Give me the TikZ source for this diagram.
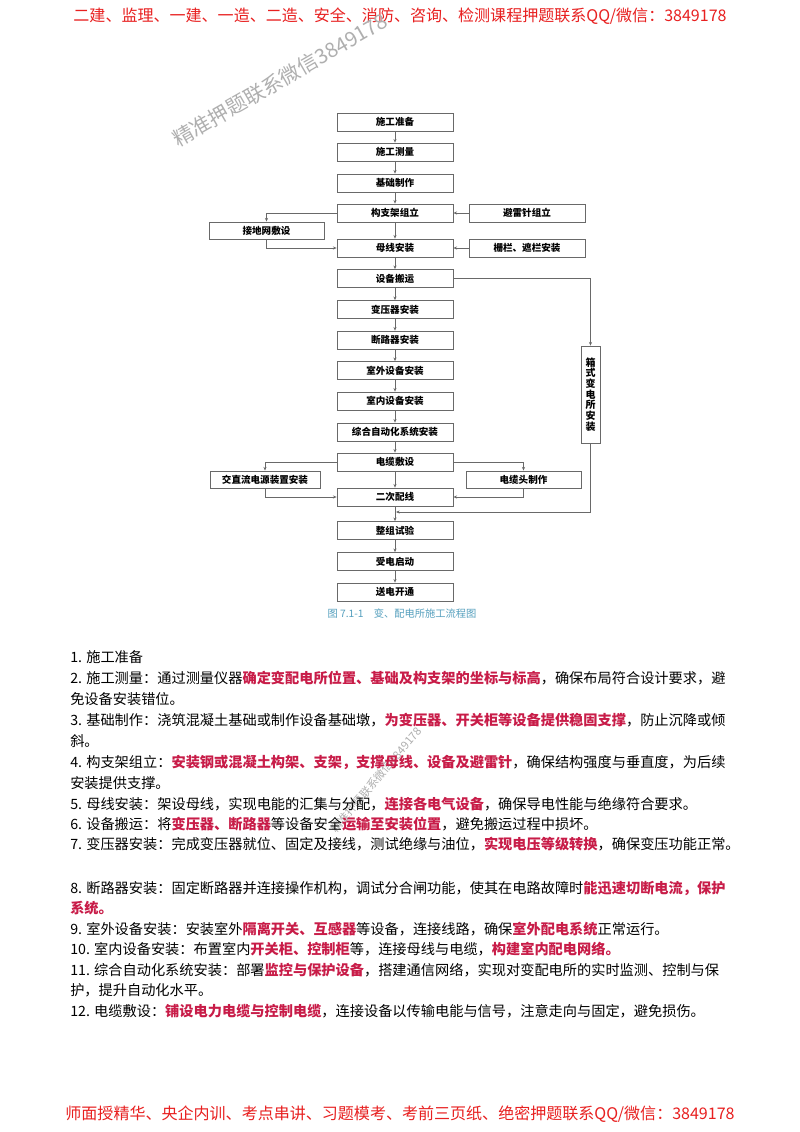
\documentclass[tikz,border=0pt]{standalone}
\usepackage{fontspec}
\setmainfont{Noto Sans CJK SC}
\usetikzlibrary{arrows.meta}
\definecolor{hdred}{RGB}{232,32,32}
\definecolor{keyred}{RGB}{200,28,72}
\definecolor{capblue}{RGB}{86,160,190}
\definecolor{boxgray}{RGB}{105,105,105}
\definecolor{wmgray}{RGB}{175,175,175}
\newcommand{\kw}[1]{{\color{keyred}\bfseries #1}}

\begin{document}
\begin{tikzpicture}[x=0.025cm, y=-0.025cm,
  stepbox/.style={draw=boxgray, fill=white, line width=0.5pt, minimum width=2.9cm, minimum height=0.45cm, inner sep=0pt, font=\fontsize{6.8pt}{7pt}\selectfont\bfseries},
  flow/.style={draw=boxgray, line width=0.5pt, -{Stealth[length=2.6pt,width=2.2pt]}},
  bodytext/.style={anchor=west, inner sep=0pt, font=\fontsize{10.1pt}{12pt}\selectfont},
  banner/.style={inner sep=0pt, text=hdred, font=\fontsize{11.4pt}{13pt}\selectfont},
  wmark/.style={inner sep=0pt, text=wmgray, font=\fontsize{14.6pt}{16pt}\selectfont}]
\fill[white] (0,0) rectangle (800,1132);
\useasboundingbox (0,0) rectangle (800,1132);

\node[banner] (head) at (400,16) {二建、监理、一建、一造、二造、安全、消防、咨询、检测课程押题联系QQ/微信：3849178};
\node[wmark, rotate=30] (wm1) at (280,80) {精准押题联系微信3849178};
\node[wmark, rotate=50, font=\fontsize{8pt}{9pt}\selectfont] (wm2) at (376,780) {精准押题联系微信3849178};

\node[stepbox] (prep) at (395,122) {施工准备};
\node[stepbox] (survey) at (395,152) {施工测量};
\node[stepbox] (found) at (395,183) {基础制作};
\node[stepbox] (frame) at (395,213) {构支架组立};
\node[stepbox] (bus) at (395,248) {母线安装};
\node[stepbox] (haul) at (395,278.5) {设备搬运};
\node[stepbox] (xfmr) at (395,309.5) {变压器安装};
\node[stepbox] (brk) at (395,340) {断路器安装};
\node[stepbox] (outdoor) at (395,370.5) {室外设备安装};
\node[stepbox] (indoor) at (395,401) {室内设备安装};
\node[stepbox] (auto) at (395,432) {综合自动化系统安装};
\node[stepbox] (cable) at (395,462) {电缆敷设};
\node[stepbox] (wiring) at (395,497) {二次配线};
\node[stepbox] (test) at (395,530.5) {整组试验};
\node[stepbox] (energize) at (395,561.5) {受电启动};
\node[stepbox] (deliver) at (395,592) {送电开通};

\node[stepbox, minimum width=2.875cm, minimum height=0.43cm] (ground) at (266.5,230.5) {接地网敷设};
\node[stepbox] (arrester) at (527,213) {避雷针组立};
\node[stepbox] (fence) at (527,248) {栅栏、遮栏安装};
\node[stepbox, minimum width=2.75cm, minimum height=0.43cm] (acdc) at (265,479.5) {交直流电源装置安装};
\node[stepbox, minimum width=2.875cm, minimum height=0.43cm] (cablehead) at (523.5,479.5) {电缆头制作};
\node[stepbox, minimum width=0.475cm, minimum height=2.425cm, align=center, font=\fontsize{7.1pt}{7.6pt}\selectfont\bfseries] (boxsub) at (590.5,394.5) {箱\\式\\变\\电\\所\\安\\装};
\coordinate (join) at (396,512);

\foreach \a/\b in {prep/survey, survey/found, found/frame, frame/bus, bus/haul, haul/xfmr, xfmr/brk, brk/outdoor, outdoor/indoor, indoor/auto, auto/cable, cable/wiring, wiring/test, test/energize, energize/deliver}
  \draw[flow] (\a) -- (\b);
\draw[flow] (frame.west) -| (ground.north);
\draw[flow] (ground.south) |- (bus.west);
\draw[flow] (arrester) -- (frame);
\draw[flow] (fence) -- (bus);
\draw[flow] (haul.east) -| (boxsub.north);
\draw[flow] (boxsub.south) |- (join);
\draw[flow] (cable.west) -| (acdc.north);
\draw[flow] (acdc.south) |- (wiring.west);
\draw[flow] (cable.east) -| (cablehead.north);
\draw[flow] (cablehead.south) |- (wiring.east);

\node[inner sep=0pt, text=capblue, font=\fontsize{7.3pt}{8pt}\selectfont] (caption) at (402,614) {图 7.1-1\quad 变、配电所施工流程图};

\node[bodytext] (t1) at (70,657) {1. 施工准备};
\node[bodytext] (t2) at (70,678) {2. 施工测量：通过测量仪器\kw{确定变配电所位置、基础及构支架的坐标与标高}，确保布局符合设计要求，避};
\node[bodytext] (t3) at (70,699) {免设备安装错位。};
\node[bodytext] (t4) at (70,720) {3. 基础制作：浇筑混凝土基础或制作设备基础墩，\kw{为变压器、开关柜等设备提供稳固支撑}，防止沉降或倾};
\node[bodytext] (t5) at (70,741) {斜。};
\node[bodytext] (t6) at (70,762) {4. 构支架组立：\kw{安装钢或混凝土构架、支架，支撑母线、设备及避雷针}，确保结构强度与垂直度，为后续};
\node[bodytext] (t7) at (70,783) {安装提供支撑。};
\node[bodytext] (t8) at (70,804) {5. 母线安装：架设母线，实现电能的汇集与分配，\kw{连接各电气设备}，确保导电性能与绝缘符合要求。};
\node[bodytext] (t9) at (70,824) {6. 设备搬运：将\kw{变压器、断路器}等设备安全\kw{运输至安装位置}，避免搬运过程中损坏。};
\node[bodytext] (t10) at (70,844) {7. 变压器安装：完成变压器就位、固定及接线，测试绝缘与油位，\kw{实现电压等级转换}，确保变压功能正常。};
\node[bodytext] (t11) at (70,888) {8. 断路器安装：固定断路器并连接操作机构，调试分合闸功能，使其在电路故障时\kw{能迅速切断电流，保护}};
\node[bodytext] (t12) at (70,908.5) {\kw{系统。}};
\node[bodytext] (t13) at (70,929) {9. 室外设备安装：安装室外\kw{隔离开关、互感器}等设备，连接线路，确保\kw{室外配电系统}正常运行。};
\node[bodytext] (t14) at (70,949.5) {10. 室内设备安装：布置室内\kw{开关柜、控制柜}等，连接母线与电缆，\kw{构建室内配电网络。}};
\node[bodytext] (t15) at (70,970) {11. 综合自动化系统安装：部署\kw{监控与保护设备}，搭建通信网络，实现对变配电所的实时监测、控制与保};
\node[bodytext] (t16) at (70,990.5) {护，提升自动化水平。};
\node[bodytext] (t17) at (70,1011) {12. 电缆敷设：\kw{铺设电力电缆与控制电缆}，连接设备以传输电能与信号，注意走向与固定，避免损伤。};

\node[banner] (foot) at (400,1114) {师面授精华、央企内训、考点串讲、习题模考、考前三页纸、绝密押题联系QQ/微信：3849178};
\end{tikzpicture}
\end{document}
